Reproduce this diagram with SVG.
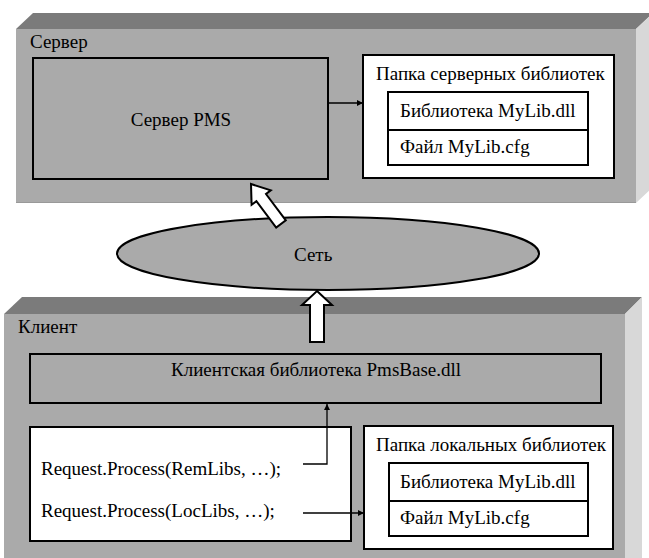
<svg xmlns="http://www.w3.org/2000/svg" width="649" height="558" viewBox="0 0 649 558">
<style>
text{font-family:"Liberation Serif","Times New Roman",serif;font-size:19px;fill:#000}
.front{fill:#aaaaaa}
.top{fill:#7b7b7b}
.side{fill:#d8d8d8}
.box{fill:#aaaaaa;stroke:#000;stroke-width:2}
.wbox{fill:#fff;stroke:#000;stroke-width:2}
.conn{fill:none;stroke:#000;stroke-width:1.3}
.hollow{fill:#fff;stroke:#000;stroke-width:2;stroke-linejoin:miter}
.mid{text-anchor:middle}
</style>
<defs>
<marker id="ah" viewBox="0 0 10 10" refX="10" refY="5" markerWidth="6" markerHeight="6" markerUnits="userSpaceOnUse" orient="auto">
<path d="M0,0 L10,5 L0,10 z" fill="#000"/>
</marker>
</defs>

<g id="server">
<polygon class="top" points="16,29 33,13 653,13 636,29"/>
<polygon class="side" points="636,29 653,13 653,187 636,203"/>
<rect class="front" x="16" y="29" width="620" height="174"/>
<line x1="16" y1="202.5" x2="636" y2="202.5" stroke="#999" stroke-width="1"/>
<text x="30" y="48">Сервер</text>
</g>

<g id="server-pms">
<rect class="box" x="33" y="58" width="295" height="121"/>
<text class="mid" x="181" y="126">Сервер PMS</text>
</g>

<g id="server-lib-folder">
<rect class="wbox" x="363" y="55" width="251" height="123"/>
<text x="376" y="80">Папка серверных библиотек</text>
<rect class="wbox" x="388" y="92" width="200" height="38"/>
<text x="400" y="117">Библиотека MyLib.dll</text>
<rect class="wbox" x="388" y="130" width="200" height="35"/>
<text x="400" y="153">Файл MyLib.cfg</text>
</g>

<g id="network">
<ellipse cx="328" cy="253.5" rx="211" ry="36.5" fill="#aaaaaa" stroke="#000" stroke-width="2"/>
<text x="294" y="261">Сеть</text>
</g>

<g id="client">
<polygon class="top" points="4,314 22,297 642,297 625,314"/>
<polygon class="side" points="625,314 642,297 642,558 625,558"/>
<rect class="front" x="4" y="314" width="621" height="244"/>
<text x="18" y="333">Клиент</text>
</g>

<g id="pmsbase">
<rect class="box" x="30" y="354" width="571" height="49"/>
<text class="mid" x="316" y="376">Клиентская библиотека PmsBase.dll</text>
</g>

<g id="request-code">
<rect class="wbox" x="30" y="427" width="321" height="114"/>
<text x="41" y="475">Request.Process(RemLibs, …);</text>
<text x="41" y="517">Request.Process(LocLibs, …);</text>
</g>

<g id="local-lib-folder">
<rect class="wbox" x="364" y="426" width="249" height="123"/>
<text x="376" y="451">Папка локальных библиотек</text>
<rect class="wbox" x="389" y="463" width="199" height="38"/>
<text x="400" y="488">Библиотека MyLib.dll</text>
<rect class="wbox" x="389" y="501" width="199" height="35"/>
<text x="400" y="524">Файл MyLib.cfg</text>
</g>

<g id="connectors">
<line class="conn" x1="329" y1="103" x2="363" y2="103" marker-end="url(#ah)"/>
<polyline class="conn" points="303,464 327,464 327,404" marker-end="url(#ah)"/>
<line class="conn" x1="303" y1="513" x2="364" y2="513" marker-end="url(#ah)"/>
<polygon class="hollow" points="251,184 270.8,190.4 266,194 285.8,220.4 276.2,227.6 256.4,201.2 251.6,204.8"/>
<polygon class="hollow" points="317,291 332,305 324,305 324,342 310,342 310,305 302,305"/>
</g>
</svg>
